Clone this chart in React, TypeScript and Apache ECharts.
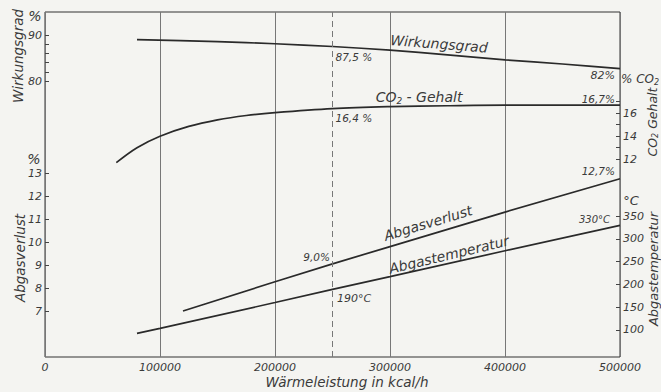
import React, { useEffect, useRef } from 'react';
import * as echarts from 'echarts';

// x: Wärmeleistung in kcal/h
const xMin = 0;
const xMax = 500000;
const xStep = 100000;
const markX = 250000;

// Wirkungsgrad (%)
const wirkungsgrad: [number, number][] = [
  [80000, 89.0], [150000, 88.55], [200000, 88.1], [250000, 87.5],
  [300000, 86.7], [350000, 85.7], [400000, 84.6], [450000, 83.7], [500000, 82.7],
];
// CO2-Gehalt (%)
const co2: [number, number][] = [
  [62000, 11.7], [80000, 13.0], [100000, 14.0], [125000, 14.85], [150000, 15.42], [175000, 15.8],
  [200000, 16.05], [250000, 16.4], [300000, 16.57], [350000, 16.65], [400000, 16.7], [450000, 16.7], [500000, 16.7],
];
// Abgasverlust (%)
const abgasverlust: [number, number][] = [
  [120000, 7.0], [200000, 8.27], [250000, 9.05], [300000, 9.8], [400000, 11.3], [500000, 12.75],
];
// Abgastemperatur (°C)
const abgastemp: [number, number][] = [
  [80000, 92], [100000, 103], [200000, 160], [250000, 189], [300000, 217], [400000, 274], [500000, 330],
];

const wgTicks = [80, 82, 84, 86, 88, 90];
const wgLabels = [80, 90];
const avTicks = [7, 8, 9, 10, 11, 12, 13];
const co2Ticks = [12, 13, 14, 15, 16, 17];
const co2Labels = [12, 14, 16];
const tempTicks = [100, 150, 200, 250, 300, 350];

const FONT = '"DejaVu Sans", sans-serif';
const INK = '#2a2a2a';
const TXT = '#3a3a3a';

function yAxisDef(position: 'left' | 'right', min: number, max: number, ticks: number[], labels: number[]) {
  return {
    type: 'value',
    position,
    min,
    max,
    axisLine: { show: false },
    splitLine: { show: false },
    axisTick: { show: true, inside: true, length: 4, customValues: ticks, lineStyle: { color: '#444', width: 1 } },
    axisLabel: {
      show: true,
      customValues: labels,
      margin: 3,
      fontSize: 11,
      fontStyle: 'italic',
      fontFamily: FONT,
      color: TXT,
    },
  };
}

function txt(text: string, x: number, y: number, size: number, opts: any = {}) {
  return {
    type: 'text',
    x,
    y,
    rotation: opts.rotation || 0,
    silent: true,
    style: {
      text,
      x: 0,
      y: 0,
      fill: TXT,
      fontSize: size,
      fontStyle: 'italic',
      fontFamily: FONT,
      align: opts.align || 'center',
      verticalAlign: 'middle',
      rich: opts.rich,
    },
  };
}

function subRich(size: number) {
  return {
    m: { fontSize: size, fontStyle: 'italic', fontFamily: FONT, fill: TXT, color: TXT, lineHeight: size + 4 },
    s: { fontSize: Math.round(size * 0.65), fontStyle: 'italic', fontFamily: FONT, fill: TXT, color: TXT, lineHeight: 10, padding: [size - 6, 0, 0, 0] },
  };
}

export default function App() {
  const ref = useRef<HTMLDivElement>(null);

  useEffect(() => {
    if (!ref.current) return;
    const chart = echarts.init(ref.current, null, { renderer: 'svg' });
    const lineStyle = { color: INK, width: 1.7 };
    chart.setOption({
      animation: false,
      backgroundColor: '#f4f4f1',
      grid: { left: 45, top: 12, width: 575, height: 345, show: true, borderColor: '#333', borderWidth: 1, backgroundColor: 'transparent' },
      xAxis: {
        type: 'value',
        min: xMin,
        max: xMax,
        interval: xStep,
        axisLine: { show: false },
        axisTick: { show: false },
        splitLine: { show: true, lineStyle: { color: '#777', width: 1 } },
        axisLabel: {
          margin: 5, fontSize: 11, fontStyle: 'italic', fontFamily: FONT, color: TXT,
          formatter: (v: number) => String(v),
        },
      },
      yAxis: [
        yAxisDef('left', 20, 95, wgTicks, wgLabels),
        yAxisDef('left', 5, 20, avTicks, avTicks),
        yAxisDef('right', -5.2, 24.8, co2Ticks, co2Labels),
        yAxisDef('right', 40, 800, tempTicks, tempTicks),
      ],
      series: [
        {
          type: 'line', name: 'Wirkungsgrad', yAxisIndex: 0, data: wirkungsgrad, smooth: 0.25, showSymbol: false, lineStyle,
          markLine: {
            silent: true, symbol: 'none', label: { show: false },
            lineStyle: { color: '#777', width: 1, type: [6, 4] },
            data: [{ xAxis: markX }],
          },
        },
        { type: 'line', name: 'CO2-Gehalt', yAxisIndex: 2, data: co2, smooth: 0.35, showSymbol: false, lineStyle },
        { type: 'line', name: 'Abgasverlust', yAxisIndex: 1, data: abgasverlust, smooth: false, showSymbol: false, lineStyle },
        { type: 'line', name: 'Abgastemperatur', yAxisIndex: 3, data: abgastemp, smooth: false, showSymbol: false, lineStyle },
      ],
    });

    const px = (si: number, d: [number, number]) => chart.convertToPixel({ seriesIndex: si }, d) as number[];
    const at = (arr: [number, number][], x: number) => arr.find((d) => d[0] === x) as [number, number];
    const deg = Math.PI / 180;
    const els: any[] = [];
    const anchorText = (text: string, si: number, arr: [number, number][], x: number, dx: number, dy: number, size: number, opts: any = {}) => {
      const p = px(si, at(arr, x));
      els.push(txt(text, p[0] + dx, p[1] + dy, size, opts));
    };

    // value annotations
    anchorText('87,5 %', 0, wirkungsgrad, 250000, 3, 10.5, 10.5, { align: 'left' });
    anchorText('16,4 %', 1, co2, 250000, 3, 9.5, 10.5, { align: 'left' });
    anchorText('82%', 0, wirkungsgrad, 500000, -5, 7, 11, { align: 'right' });
    anchorText('16,7%', 1, co2, 500000, -5, -6, 10.5, { align: 'right' });
    anchorText('12,7%', 2, abgasverlust, 500000, -5, -8, 10.5, { align: 'right' });
    anchorText('330°C', 3, abgastemp, 500000, -10, -6, 10, { align: 'right' });
    anchorText('9,0%', 2, abgasverlust, 250000, -2.5, -7, 10.5, { align: 'right' });
    anchorText('190°C', 3, abgastemp, 250000, 4.5, 9, 11, { align: 'left' });

    // curve names
    anchorText('Wirkungsgrad', 0, wirkungsgrad, 350000, -8.5, -11, 14, { rotation: -4.5 * deg });
    anchorText('{m|CO}{s|2}{m| - Gehalt}', 1, co2, 300000, 29, -9.6, 14, { rich: subRich(14) });
    anchorText('Abgasverlust', 2, abgasverlust, 300000, 38, -23.6, 14, { rotation: 16.7 * deg });
    anchorText('Abgastemperatur', 3, abgastemp, 300000, 59, -22, 14, { rotation: 13.5 * deg });

    // axis titles and units
    els.push(txt('Wirkungsgrad', 17.5, 56, 13.5, { rotation: 90 * deg }));
    els.push(txt('Abgasverlust', 20, 258, 13.5, { rotation: 90 * deg }));
    els.push(txt('%', 35, 16, 14));
    els.push(txt('%', 34, 159, 14));
    els.push(txt('{m|% CO}{s|2}', 621, 79, 12, { align: 'left', rich: subRich(12) }));
    els.push(txt('{m|CO}{s|2}{m| Gehalt}', 652, 122, 12.5, { rotation: 90 * deg, rich: subRich(12.5) }));
    els.push(txt('°C', 631, 200, 13));
    els.push(txt('Abgastemperatur', 653, 269, 13, { rotation: 90 * deg }));
    els.push(txt('Wärmeleistung in kcal/h', 347, 382, 13.5));

    chart.setOption({ graphic: { elements: els } });

    return () => chart.dispose();
  }, []);

  return <div ref={ref} style={{ position: 'fixed', left: 0, top: 0, width: 661, height: 392 }} />;
}
